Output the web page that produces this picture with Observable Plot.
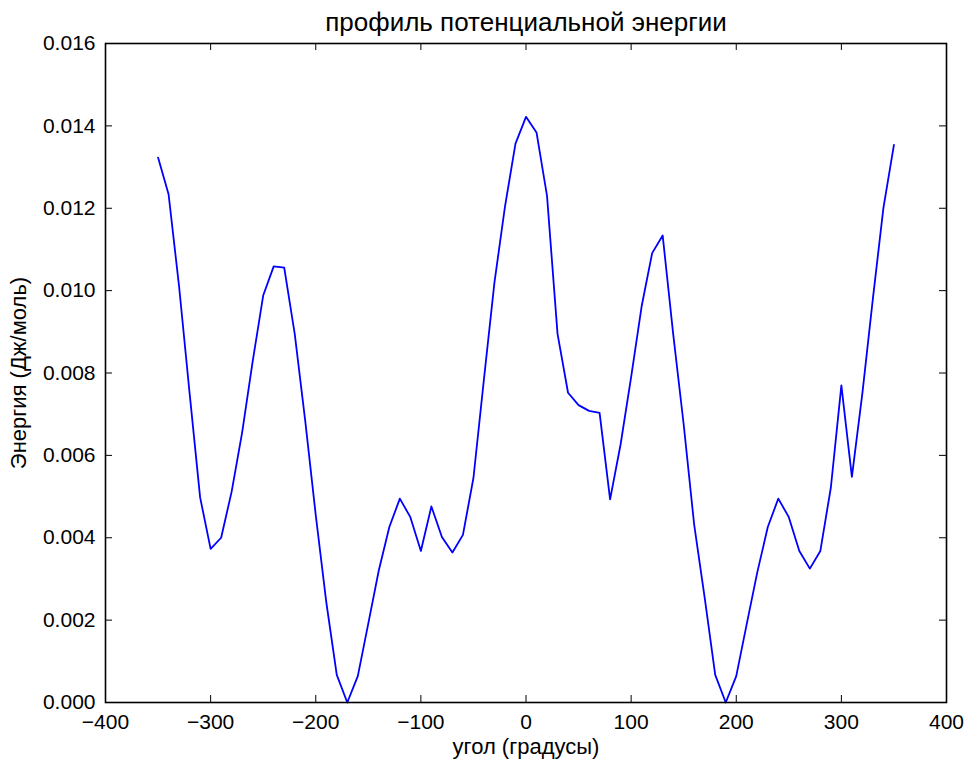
<!DOCTYPE html>
<html>
<head>
<meta charset="utf-8">
<script src="https://cdn.jsdelivr.net/npm/d3@7"></script>
<script src="https://cdn.jsdelivr.net/npm/@observablehq/plot@0.6"></script>
<style>
  body { margin: 0; background: #fff; }
  svg { overflow: visible; }
</style>
</head>
<body>
<div id="chart"></div>
<script>
const angles = [-350,-340,-330,-320,-310,-300,-290,-280,-270,-260,-250,-240,-230,-220,-210,-200,-190,-180,-170,-160,-150,-140,-130,-120,-110,-100,-90,-80,-70,-60,-50,-40,-30,-20,-10,0,10,20,30,40,50,60,70,80,90,100,110,120,130,140,150,160,170,180,190,200,210,220,230,240,250,260,270,280,290,300,310,320,330,340,350];
const energy = [0.01323,0.01234,0.01010,0.00751,0.00498,0.00373,0.00400,0.00512,0.00656,0.00828,0.00988,0.01059,0.01056,0.00895,0.00684,0.00455,0.00244,0.00067,0.00000,0.00064,0.00192,0.00321,0.00426,0.00495,0.00450,0.00368,0.00476,0.00402,0.00364,0.00407,0.00545,0.00785,0.01020,0.01204,0.01357,0.01422,0.01384,0.01230,0.00895,0.00752,0.00722,0.00708,0.00703,0.00493,0.00627,0.00790,0.00962,0.01091,0.01134,0.00895,0.00675,0.00431,0.00254,0.00067,0.00000,0.00064,0.00191,0.00316,0.00426,0.00495,0.00450,0.00368,0.00325,0.00368,0.00522,0.00770,0.00548,0.00751,0.00981,0.01201,0.01354];
const xTicks = [-400,-300,-200,-100,0,100,200,300,400];
const yTicks = [0,0.002,0.004,0.006,0.008,0.010,0.012,0.014,0.016];
const titleText = "профиль потенциальной энергии";
const xLabel = "угол (градусы)";
const yLabel = "Энергия (Дж/моль)";

const data = angles.map((a, i) => ({angle: a, energy: energy[i]}));

const W = 968, H = 760;
const mL = 105, mR = 22, mT = 43, mB = 58;
const frameH = H - mT - mB;
const frameW = W - mL - mR;
const tickLen = 7;

const chart = Plot.plot({
  width: W,
  height: H,
  marginLeft: mL,
  marginRight: mR,
  marginTop: mT,
  marginBottom: mB,
  style: {fontFamily: "'Liberation Sans', Arial, sans-serif", fontSize: "21px", color: "#000", background: "#fff"},
  x: {domain: [-400, 400]},
  y: {domain: [0, 0.016]},
  marks: [
    Plot.axisX(xTicks, {tickSize: 0, tickPadding: 12, fontSize: 21, label: null, tickFormat: d => d3.format("d")(d).replace("-", "\u2212")}),
    Plot.axisY(yTicks, {tickSize: 0, tickPadding: 10, fontSize: 21, label: null, tickFormat: d3.format(".3f")}),
    Plot.text([xLabel], {frameAnchor: "bottom", lineAnchor: "bottom", dy: 51, text: d => d, fontSize: 22, fill: "#000"}),
    Plot.text([yLabel], {frameAnchor: "left", lineAnchor: "top", textAnchor: "middle", rotate: -90, dx: -95, text: d => d, fontSize: 22, fill: "#000"}),
    Plot.ruleX(xTicks, {x: d => d, insetTop: frameH - tickLen, stroke: "#000", strokeWidth: 1}),
    Plot.ruleX(xTicks, {x: d => d, insetBottom: frameH - tickLen, stroke: "#000", strokeWidth: 1}),
    Plot.ruleY(yTicks, {y: d => d, insetRight: frameW - tickLen, stroke: "#000", strokeWidth: 1}),
    Plot.ruleY(yTicks, {y: d => d, insetLeft: frameW - tickLen, stroke: "#000", strokeWidth: 1}),
    Plot.line(data, {x: "angle", y: "energy", stroke: "#0000ff", strokeWidth: 1.8}),
    Plot.frame({stroke: "#000", strokeWidth: 1.6}),
    Plot.text([titleText], {frameAnchor: "top", lineAnchor: "bottom", dy: -13, text: d => d, fontSize: 26, fill: "#000"})
  ]
});
document.getElementById("chart").appendChild(chart);
</script>
</body>
</html>
